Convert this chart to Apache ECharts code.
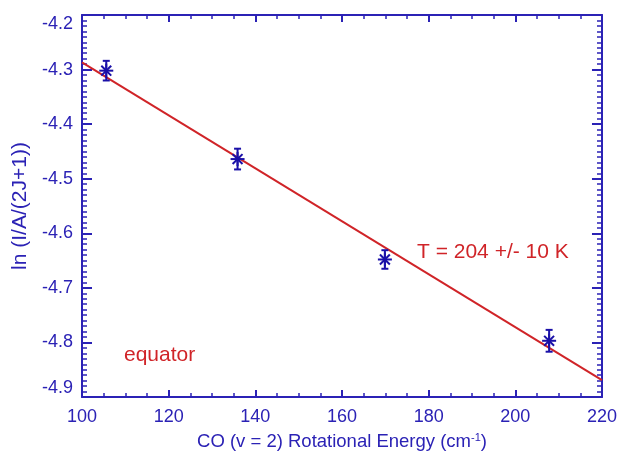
<!DOCTYPE html>
<html>
<head>
<meta charset="utf-8">
<script src="https://cdn.jsdelivr.net/npm/echarts@6/dist/echarts.min.js"></script>
<style>
html,body{margin:0;padding:0;background:#fff;}
#chart{width:620px;height:457px;}
</style>
</head>
<body>
<div id="chart"></div>
<script>
// Data
const energies = [105.6, 135.9, 169.9, 207.8];
const lnValues = [-4.302, -4.464, -4.648, -4.797];
const lnErrors = [0.018, 0.019, 0.017, 0.020];
const fitX = [100, 220];
const fitY = [-4.287, -4.869];
const xTicks = [100, 120, 140, 160, 180, 200, 220];
const yTicks = [-4.9, -4.8, -4.7, -4.6, -4.5, -4.4, -4.3, -4.2];
const fitLabel = 'T = 204 +/- 10 K';
const regionLabel = 'equator';

const BLUE = '#2b22b5';
const MARK = '#1a10a8';
const RED = '#d02428';
const FONT = '"Liberation Sans", Arial, Helvetica, sans-serif';

const pts = energies.map((x, i) => [x, lnValues[i], lnErrors[i]]);
const fit = fitX.map((x, i) => [x, fitY[i]]);

const chart = echarts.init(document.getElementById('chart'), null, {renderer: 'canvas'});

function xAxisDef(pos, showLabel) {
  return {
    type: 'value', position: pos, min: xTicks[0], max: xTicks[xTicks.length - 1], interval: 20,
    axisLine: {show: true, onZero: false, lineStyle: {color: BLUE, width: 2}},
    axisTick: {show: true, inside: true, length: 7, lineStyle: {color: BLUE, width: 2}},
    minorTick: {show: true, splitNumber: 4, length: 4, lineStyle: {color: BLUE, width: 1.5}},
    splitLine: {show: false},
    axisLabel: {show: showLabel, color: BLUE, fontSize: 18, fontFamily: FONT, margin: 11},
    name: showLabel ? '{n|CO (v = 2) Rotational Energy (cm}{s|-1}{n|)}' : '',
    nameLocation: 'middle', nameGap: 35,
    nameTextStyle: {
      rich: {
        n: {color: BLUE, fontSize: 18.5, fontFamily: FONT},
        s: {color: BLUE, fontSize: 11, fontFamily: FONT, verticalAlign: 'top', padding: [0, 0, 9, 0]}
      }
    }
  };
}
function yAxisDef(pos, showLabel) {
  return {
    type: 'value', position: pos, min: yTicks[0], max: yTicks[yTicks.length - 1], interval: 0.1,
    axisLine: {show: true, onZero: false, lineStyle: {color: BLUE, width: 2}},
    axisTick: {show: true, inside: true, length: 10, lineStyle: {color: BLUE, width: 2}},
    minorTick: {show: true, splitNumber: 10, length: 5, lineStyle: {color: BLUE, width: 1.5}},
    splitLine: {show: false},
    axisLabel: {show: showLabel, color: BLUE, fontSize: 18, fontFamily: FONT, margin: 9,
      verticalAlignMaxLabel: 'top', verticalAlignMinLabel: 'bottom',
      formatter: v => v.toFixed(1)},
    name: showLabel ? 'ln (I/A/(2J+1))' : '',
    nameLocation: 'middle', nameGap: 49, nameRotate: 90,
    nameTextStyle: {color: BLUE, fontSize: 21, fontFamily: FONT}
  };
}

const option = {
  animation: false,
  backgroundColor: '#fff',
  grid: {left: 82, right: 17, top: 15, bottom: 60, containLabel: false},
  xAxis: [xAxisDef('bottom', true), xAxisDef('top', false)],
  yAxis: [yAxisDef('left', true), yAxisDef('right', false)],
  series: [
    {
      type: 'line', xAxisIndex: 0, yAxisIndex: 0, data: fit, showSymbol: false, symbol: 'none',
      lineStyle: {color: RED, width: 2}, clip: true, z: 2
    },
    {
      type: 'custom', xAxisIndex: 0, yAxisIndex: 0, data: pts, z: 3,
      renderItem: function (params, api) {
        const x = api.value(0), y = api.value(1), e = api.value(2);
        const c = api.coord([x, y]);
        const t = api.coord([x, y + e]);
        const b = api.coord([x, y - e]);
        const r = 7, d = r * 0.7071, cw = 3.5;
        const st = {stroke: MARK, lineWidth: 2, fill: null};
        const ln = (x1, y1, x2, y2) => ({type: 'line', shape: {x1, y1, x2, y2}, style: st});
        return {type: 'group', children: [
          ln(t[0], t[1], b[0], b[1]),
          ln(t[0] - cw, t[1], t[0] + cw, t[1]),
          ln(b[0] - cw, b[1], b[0] + cw, b[1]),
          ln(c[0] - r, c[1], c[0] + r, c[1]),
          ln(c[0], c[1] - r, c[0], c[1] + r),
          ln(c[0] - d, c[1] - d, c[0] + d, c[1] + d),
          ln(c[0] - d, c[1] + d, c[0] + d, c[1] - d)
        ]};
      }
    }
  ],
  graphic: [
    {type: 'text', left: 417, top: 242, style: {text: fitLabel, fill: RED, fontSize: 21, fontFamily: FONT}},
    {type: 'text', left: 124, top: 345, style: {text: regionLabel, fill: RED, fontSize: 21, fontFamily: FONT}}
  ]
};
chart.setOption(option);
</script>
</body>
</html>
